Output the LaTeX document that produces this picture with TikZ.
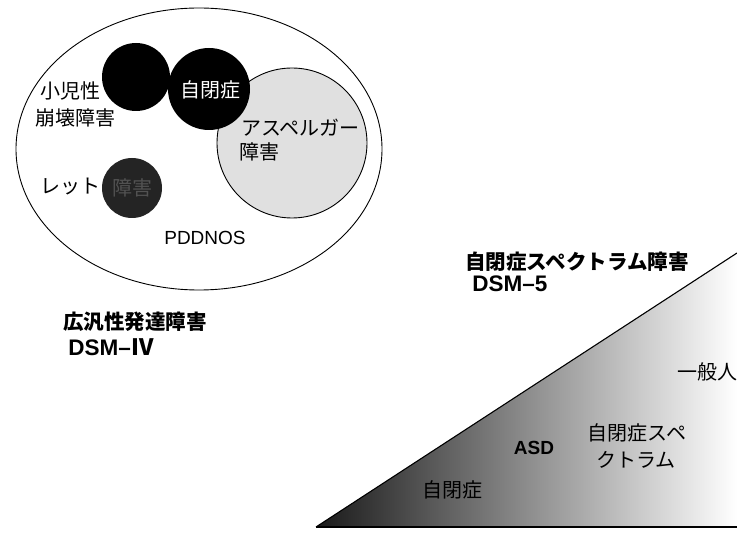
\documentclass[tikz,border=0pt]{standalone}
\usepackage{fontspec}
\setmainfont{Liberation Sans}
\newfontfamily\cjk{Noto Sans CJK JP}
\usetikzlibrary{shapes.geometric}
\tikzset{
  jp/.style={font=\cjk\fontsize{20}{24}\selectfont, inner sep=0pt},
  jpbold/.style={font=\cjk\bfseries\fontsize{20.5}{24}\selectfont, inner sep=0pt},
  lat/.style={font=\fontsize{19}{22}\selectfont, inner sep=0pt},
  latbold/.style={font=\bfseries\fontsize{22.5}{26}\selectfont, inner sep=0pt},
  blob/.style={circle, inner sep=0pt},
}
\begin{document}
\begin{tikzpicture}[x=1pt,y=-1pt]
\useasboundingbox[fill=white] (0,0) rectangle (737,534);
% DSM-IV diagram
\node[ellipse, draw=black, line width=0.9pt, minimum width=366pt, minimum height=282pt, inner sep=0pt] (pdd) at (199,149) {};
\node[blob, draw=black, line width=0.9pt, fill=black!12, minimum size=150pt] (asp) at (292,143) {};
\node[blob, fill=black, minimum size=68pt] (cdd) at (136,77) {};
\node[blob, fill=black, minimum size=82pt] (aut) at (209,89) {};
\node[blob, fill=black!86, minimum size=60pt] (rett) at (132,188) {};
\node[jp] (tcdd1) at (70,91) {小児性};
\node[jp] (tcdd2) at (75,118) {崩壊障害};
\node[jp, text=white] (taut) at (210,90) {自閉症};
\node[jp] (tasp1) at (300,128) {アスペルガー};
\node[jp] (tasp2) at (259,152) {障害};
\node[jp] (trett) at (70,187) {レット};
\node[jp, text=black!68] (trett2) at (132,188) {障害};
\node[lat] (tpdd) at (205,238) {PDDNOS};
\node[jpbold] (title4) at (135,322) {広汎性発達障害};
\node[latbold] (dsm4) at (111,347) {DSM–{\cjk Ⅳ}};
% DSM-5 diagram
\coordinate (tA) at (316,527);
\coordinate (tB) at (737,253);
\coordinate (tC) at (737,527);
\shade[left color=black!90, middle color=black!38, right color=white] (tA) -- (tB) -- (tC) -- cycle;
\draw[line width=1.1pt] (tA) -- (tB);
\draw[line width=2.6pt] (tA) -- (tC);
\node[jpbold] (title5) at (577,262) {自閉症スペクトラム障害};
\node[latbold] (dsm5) at (510,284) {DSM–5};
\node[jp] (tgen) at (707,372) {一般人};
\node[jp] (tspec1) at (637,433) {自閉症スペ};
\node[jp] (tspec2) at (636,460) {クトラム};
\node[font=\bfseries\fontsize{19}{22}\selectfont, inner sep=0pt] (tasd) at (534,448) {ASD};
\node[jp] (taut5) at (452,490) {自閉症};
\end{tikzpicture}
\end{document}
